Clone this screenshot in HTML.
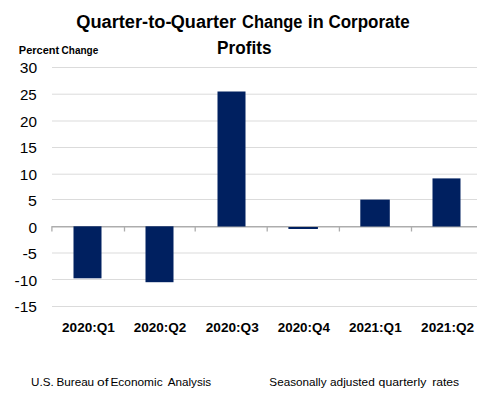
<!DOCTYPE html>
<html><head><meta charset="utf-8">
<style>
html,body{margin:0;padding:0;background:#fff;width:477px;height:393px;overflow:hidden}
svg{position:absolute;left:0;top:0;display:block}
text{font-family:"Liberation Sans",sans-serif;fill:#000}
</style></head><body>
<svg width="477" height="393" viewBox="0 0 477 393">
<g stroke="#dbdbdb" stroke-width="1.0">
<line x1="52" x2="477" y1="67.5" y2="67.5"/>
<line x1="52" x2="477" y1="94.2" y2="94.2"/>
<line x1="52" x2="477" y1="121.0" y2="121.0"/>
<line x1="52" x2="477" y1="147.5" y2="147.5"/>
<line x1="52" x2="477" y1="174.2" y2="174.2"/>
<line x1="52" x2="477" y1="199.5" y2="199.5"/>
<line x1="52" x2="477" y1="253.0" y2="253.0"/>
<line x1="52" x2="477" y1="279.5" y2="279.5"/>
<line x1="52" x2="477" y1="306.5" y2="306.5"/>
</g>
<g stroke="#adadad" stroke-width="1.5" fill="none">
<line x1="51.7" x2="477" y1="226.7" y2="226.7"/>
<line x1="51.9" x2="51.9" y1="226.2" y2="231.5" stroke-width="1.3"/>
<line x1="124.5" x2="124.5" y1="226.2" y2="231.5" stroke-width="1.3"/>
<line x1="195.2" x2="195.2" y1="226.2" y2="231.5" stroke-width="1.3"/>
<line x1="267.2" x2="267.2" y1="226.2" y2="231.5" stroke-width="1.3"/>
<line x1="339.4" x2="339.4" y1="226.2" y2="231.5" stroke-width="1.3"/>
<line x1="411.5" x2="411.5" y1="226.2" y2="231.5" stroke-width="1.3"/>
</g>
<g fill="#002060">
<rect x="73.5" y="226.3" width="28.00" height="52.00"/>
<rect x="145.5" y="226.3" width="28.00" height="55.90"/>
<rect x="217.5" y="91.5" width="28.00" height="135.00"/>
<rect x="288.4" y="227.0" width="29.50" height="2.00"/>
<rect x="360.3" y="199.6" width="29.50" height="26.90"/>
<rect x="432.5" y="178.4" width="28.00" height="48.10"/>
</g>
<text x="76.23" y="27.60" font-size="17.5" font-weight="bold" textLength="95.26" lengthAdjust="spacingAndGlyphs">Quarter-to-</text>
<text x="170.84" y="27.60" font-size="17.5" font-weight="bold" textLength="65.19" lengthAdjust="spacingAndGlyphs">Quarter</text>
<text x="242.09" y="27.60" font-size="17.5" font-weight="bold" textLength="60.28" lengthAdjust="spacingAndGlyphs">Change</text>
<text x="307.67" y="27.60" font-size="17.5" font-weight="bold" textLength="16.00" lengthAdjust="spacingAndGlyphs">in</text>
<text x="328.42" y="27.60" font-size="17.5" font-weight="bold" textLength="81.17" lengthAdjust="spacingAndGlyphs">Corporate</text>
<text x="216.99" y="53.50" font-size="17.5" font-weight="bold" textLength="54.49" lengthAdjust="spacingAndGlyphs">Profits</text>
<text x="18.84" y="54.00" font-size="11.2" font-weight="bold" textLength="40.32" lengthAdjust="spacingAndGlyphs">Percent</text>
<text x="61.61" y="54.00" font-size="11.2" font-weight="bold" textLength="36.64" lengthAdjust="spacingAndGlyphs">Change</text>
<text x="19.73" y="72.90" font-size="15.3" textLength="17.38" lengthAdjust="spacingAndGlyphs">30</text>
<text x="19.93" y="99.90" font-size="15.3" textLength="16.84" lengthAdjust="spacingAndGlyphs">25</text>
<text x="19.94" y="126.90" font-size="15.3" textLength="16.94" lengthAdjust="spacingAndGlyphs">20</text>
<text x="19.78" y="152.70" font-size="15.3" textLength="17.17" lengthAdjust="spacingAndGlyphs">15</text>
<text x="19.87" y="179.90" font-size="15.3" textLength="17.08" lengthAdjust="spacingAndGlyphs">10</text>
<text x="28.12" y="205.70" font-size="15.3" textLength="8.88" lengthAdjust="spacingAndGlyphs">5</text>
<text x="28.51" y="232.90" font-size="15.3" textLength="8.57" lengthAdjust="spacingAndGlyphs">0</text>
<text x="22.40" y="258.70" font-size="15.3" textLength="14.55" lengthAdjust="spacingAndGlyphs">-5</text>
<text x="14.54" y="285.90" font-size="15.3" textLength="22.52" lengthAdjust="spacingAndGlyphs">-10</text>
<text x="14.50" y="311.90" font-size="15.3" textLength="22.37" lengthAdjust="spacingAndGlyphs">-15</text>
<text x="62.09" y="332.20" font-size="12.25" font-weight="bold" textLength="52.79" lengthAdjust="spacingAndGlyphs">2020:Q1</text>
<text x="133.73" y="332.20" font-size="12.25" font-weight="bold" textLength="52.63" lengthAdjust="spacingAndGlyphs">2020:Q2</text>
<text x="205.72" y="332.20" font-size="12.25" font-weight="bold" textLength="53.10" lengthAdjust="spacingAndGlyphs">2020:Q3</text>
<text x="277.73" y="332.20" font-size="12.25" font-weight="bold" textLength="52.18" lengthAdjust="spacingAndGlyphs">2020:Q4</text>
<text x="349.05" y="332.20" font-size="12.25" font-weight="bold" textLength="52.62" lengthAdjust="spacingAndGlyphs">2021:Q1</text>
<text x="421.08" y="332.20" font-size="12.25" font-weight="bold" textLength="53.07" lengthAdjust="spacingAndGlyphs">2021:Q2</text>
<text x="31.13" y="385.60" font-size="11.2" textLength="22.57" lengthAdjust="spacingAndGlyphs">U.S.</text>
<text x="56.46" y="385.60" font-size="11.2" textLength="37.67" lengthAdjust="spacingAndGlyphs">Bureau</text>
<text x="97.12" y="385.60" font-size="11.2" textLength="11.47" lengthAdjust="spacingAndGlyphs">of</text>
<text x="110.45" y="385.60" font-size="11.2" textLength="52.16" lengthAdjust="spacingAndGlyphs">Economic</text>
<text x="167.67" y="385.60" font-size="11.2" textLength="43.57" lengthAdjust="spacingAndGlyphs">Analysis</text>
<text x="269.33" y="385.60" font-size="11.2" textLength="57.20" lengthAdjust="spacingAndGlyphs">Seasonally</text>
<text x="330.06" y="385.60" font-size="11.2" textLength="44.71" lengthAdjust="spacingAndGlyphs">adjusted</text>
<text x="378.64" y="385.60" font-size="11.2" textLength="47.65" lengthAdjust="spacingAndGlyphs">quarterly</text>
<text x="432.18" y="385.60" font-size="11.2" textLength="27.01" lengthAdjust="spacingAndGlyphs">rates</text>
</svg>
</body></html>
